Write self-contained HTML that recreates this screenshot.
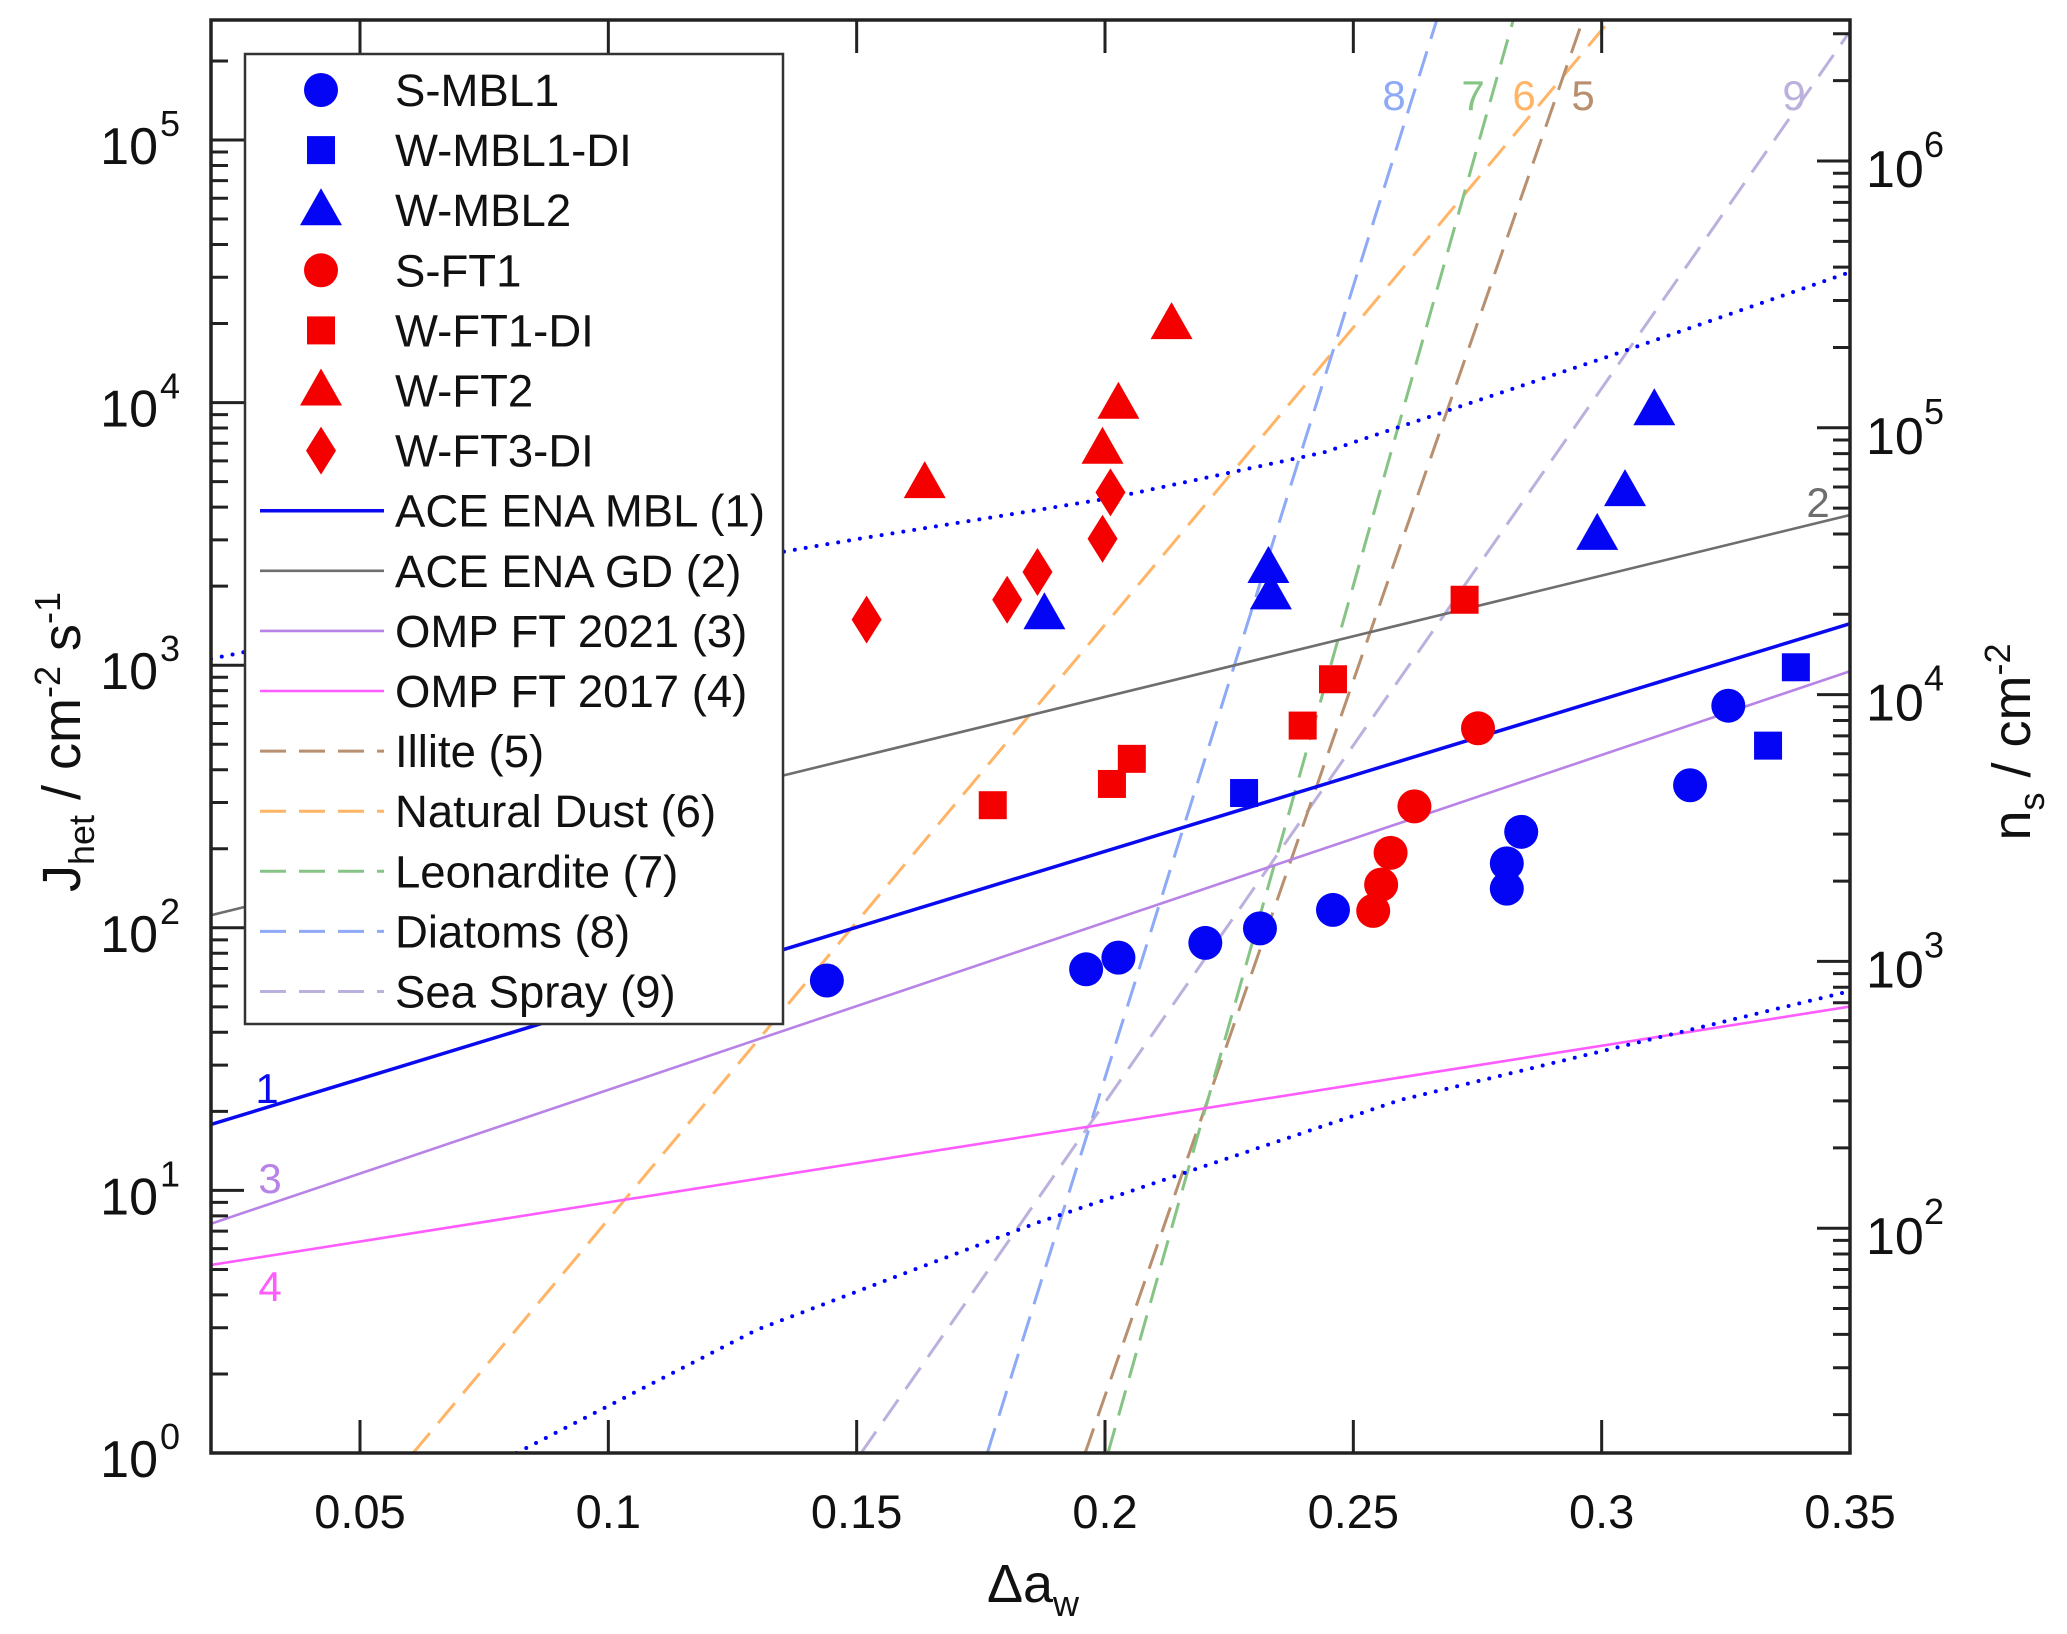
<!DOCTYPE html>
<html><head><meta charset="utf-8"><style>
html,body{margin:0;padding:0;background:#fff;width:2067px;height:1634px;overflow:hidden}
svg text{font-family:"Liberation Sans",Arial,sans-serif;fill:#111}
</style></head><body>
<svg id="chart" width="2067" height="1634" viewBox="0 0 2067 1634" xmlns="http://www.w3.org/2000/svg"></svg>
<script>
// ---------- data ----------
const xTicks=[0.05,0.1,0.15,0.2,0.25,0.3,0.35];
const xTickLabels=["0.05","0.1","0.15","0.2","0.25","0.3","0.35"];
const yTickExps=[0,1,2,3,4,5];
const rTickExps=[2,3,4,5,6];
// scatter series [x, J]
const sMbl1X=[0.1440,0.1962,0.2027,0.2202,0.2312,0.2459,0.2809,0.2809,0.2838,0.3178,0.3255];
const sMbl1Y=[63,69.5,77,87.6,99.5,117,141,176,232,349,701];
const wMbl1X=[0.2280,0.3335,0.3391];
const wMbl1Y=[326,494,982];
const wMbl2X=[0.1878,0.2334,0.2329,0.2991,0.3047,0.3106];
const wMbl2Y=[1563,1860,2346,3135,4600,9350];
const sFt1X=[0.2540,0.2556,0.2575,0.2623,0.2751];
const sFt1Y=[116,146,193,290,575];
const wFt1X=[0.1774,0.2014,0.2054,0.2398,0.2459,0.2724];
const wFt1Y=[293,353,440,589,884,1775];
const wFt2X=[0.1637,0.1995,0.2027,0.2134];
const wFt2Y=[4935,6670,9900,19900];
const wFt3X=[0.1520,0.1803,0.1864,0.1995,0.2011];
const wFt3Y=[1492,1775,2265,3030,4550];
// lines: endpoints [x0, log10J0, x1, log10J1]
const lineMbl=[0.02,1.251,0.35,3.158];
const lineGd=[0.02,2.048,0.35,3.572];
const lineOmp21=[0.02,0.873,0.35,2.977];
const lineOmp17=[0.02,0.716,0.35,1.700];
const lineIllite=[0.196,0,0.2962,5.457];
const lineDust=[0.0607,0,0.3017,5.457];
const lineLeon=[0.2006,0,0.2822,5.457];
const lineDiat=[0.1763,0,0.2668,5.457];
const lineSea=[0.1509,0,0.35,5.414];
// dotted confidence bounds
const upperX=[0.02,0.06,0.1007,0.15,0.2014,0.244,0.3022,0.35];
const upperL=[3.024,3.18,3.32,3.48,3.637,3.81,4.181,4.497];
const lowerX=[0.0815,0.13,0.1862,0.2594,0.35];
const lowerL=[0,0.47,0.876,1.344,1.759];
</script>
<script>
const svg=document.getElementById('chart');
const NS='http://www.w3.org/2000/svg';
const L=211,R=1850,T=20,B=1453;
const X=x=>L+(x-0.02)*(R-L)/0.33;
const YL=l=>B-l*262.6;
const Y=v=>YL(Math.log10(v));
const YR=l=>161+(6-l)*266.8;
function mk(tag,attrs,parent){const e=document.createElementNS(NS,tag);for(const k in attrs)e.setAttribute(k,attrs[k]);(parent||svg).appendChild(e);return e;}
const defs=mk('defs',{});
const cp=mk('clipPath',{id:'clip'},defs);mk('rect',{x:L,y:T,width:R-L,height:B-T},cp);
const plot=mk('g',{'clip-path':'url(#clip)'});



function seg(a,color,w,dash,name){
  const e=mk('line',{x1:X(a[0]),y1:YL(a[1]),x2:X(a[2]),y2:YL(a[3]),stroke:color,'stroke-width':w,fill:'none'},plot);
  if(dash)e.setAttribute('stroke-dasharray',dash);
  
  
}
function poly(xs,ls,color,name){
  const pts=xs.map((x,i)=>X(x)+','+YL(ls[i])).join(' ');
  const e=mk('polyline',{points:pts,stroke:color,'stroke-width':4,fill:'none','stroke-dasharray':'0 11','stroke-linecap':'round'},plot);
  
  
}
const C={illite:'#b89070',dust:'#ffb466',leon:'#86c486',diat:'#8eaaf6',sea:'#bcb0dc',mbl:'#0a0af0',gd:'#6e6e6e',o21:'#b883e6',o17:'#ff5cff'};
seg(lineSea,C.sea,3,'26 13','line-sea-spray');
seg(lineDust,C.dust,3,'26 13','line-natural-dust');
seg(lineDiat,C.diat,3,'26 13','line-diatoms');
seg(lineIllite,C.illite,3,'26 13','line-illite');
seg(lineLeon,C.leon,3,'26 13','line-leonardite');
seg(lineGd,C.gd,2.6,null,'line-ace-ena-gd');
seg(lineOmp21,C.o21,2.6,null,'line-omp-ft-2021');
seg(lineOmp17,C.o17,2.6,null,'line-omp-ft-2017');
seg(lineMbl,C.mbl,3.5,null,'line-ace-ena-mbl');
poly(upperX,upperL,'#0000ff','upper-confidence-bound');
poly(lowerX,lowerL,'#0000ff','lower-confidence-bound');

function marker(shape,cx,cy,color,parent){
  let e;
  if(shape==='c')e=mk('circle',{cx,cy,r:17,fill:color},parent);
  else if(shape==='s')e=mk('rect',{x:cx-14,y:cy-14,width:28,height:28,fill:color},parent);
  else if(shape==='t')e=mk('polygon',{points:`${cx},${cy-22} ${cx+21},${cy+15} ${cx-21},${cy+15}`,fill:color},parent);
  else e=mk('polygon',{points:`${cx},${cy-24} ${cx+15},${cy} ${cx},${cy+24} ${cx-15},${cy}`,fill:color},parent);
  return e;
}
function series(xs,ys,shape,color,name){
  const g=mk('g',{});
  
  
  xs.forEach((x,i)=>{const e=marker(shape,X(x),Y(ys[i]),color,g);
    
    });
}
const BL='#0505f5',RD='#f50000';
series(sMbl1X,sMbl1Y,'c',BL,'s-mbl1');
series(wMbl1X,wMbl1Y,'s',BL,'w-mbl1-di');
series(wMbl2X,wMbl2Y,'t',BL,'w-mbl2');
series(sFt1X,sFt1Y,'c',RD,'s-ft1');
series(wFt1X,wFt1Y,'s',RD,'w-ft1-di');
series(wFt2X,wFt2Y,'t',RD,'w-ft2');
series(wFt3X,wFt3Y,'d',RD,'w-ft3-di');

// line number labels
function lab(t,x,y,color,name){const e=mk('text',{x,y,'font-size':42,'text-anchor':'middle'});e.style.fill=color;e.textContent=t;
  
  }
lab('8',1394,110,C.diat,'label-8');lab('7',1473,110,C.leon,'label-7');lab('6',1524,110,C.dust,'label-6');
lab('5',1583,110,C.illite,'label-5');lab('9',1794,110,C.sea,'label-9');lab('2',1818,517,C.gd,'label-2');
lab('1',267,1103,C.mbl,'label-1');lab('3',270,1193,C.o21,'label-3');lab('4',270,1301,C.o17,'label-4');

// axes frame
const ax=mk('rect',{x:L,y:T,width:R-L,height:B-T,fill:'none',stroke:'#222','stroke-width':3.5});


// x ticks
xTicks.forEach((v,i)=>{const x=X(v);
  mk('line',{x1:x,y1:B,x2:x,y2:B-33,stroke:'#222','stroke-width':3});
  mk('line',{x1:x,y1:T,x2:x,y2:T+33,stroke:'#222','stroke-width':3});
  const t=mk('text',{x:x,y:1528,'font-size':47,'text-anchor':'middle'});t.textContent=xTickLabels[i];
  
  
});
// left y ticks
yTickExps.forEach(e=>{const y=YL(e);
  mk('line',{x1:L,y1:y,x2:L+33,y2:y,stroke:'#222','stroke-width':3});
  for(let m=2;m<10;m++){const yy=YL(e+Math.log10(m));if(yy>T)mk('line',{x1:L,y1:yy,x2:L+17,y2:yy,stroke:'#222','stroke-width':3});}
  const t=mk('text',{x:158,y:y+24,'font-size':52,'text-anchor':'end'});t.textContent='10';
  
  
  const s=mk('text',{x:160,y:y-4,'font-size':36});s.textContent=String(e);
});
// right y ticks
[1,2,3,4,5,6].forEach(e=>{const y=YR(e);
  if(y<B&&y>T)mk('line',{x1:R,y1:y,x2:R-33,y2:y,stroke:'#222','stroke-width':3});
  for(let m=2;m<10;m++){const yy=YR(e+Math.log10(m));if(yy>T&&yy<B)mk('line',{x1:R,y1:yy,x2:R-17,y2:yy,stroke:'#222','stroke-width':3});}
});
rTickExps.forEach(e=>{const y=YR(e);
  const t=mk('text',{x:1866,y:y+26,'font-size':52});t.textContent='10';
  
  
  const s=mk('text',{x:1924,y:y-4,'font-size':36});s.textContent=String(e);
});
// axis titles
let t=mk('text',{x:1033,y:1602,'font-size':54,'text-anchor':'middle'});
t.innerHTML='Δa<tspan font-size="36" dy="14">w</tspan>';


t=mk('text',{x:0,y:0,'font-size':54,'text-anchor':'middle',transform:'translate(80,742) rotate(-90)'});
t.innerHTML='J<tspan font-size="36" dy="14">het</tspan><tspan dy="-14"> / cm</tspan><tspan font-size="36" dy="-20">-2</tspan><tspan dy="20"> s</tspan><tspan font-size="36" dy="-20">-1</tspan>';


t=mk('text',{x:0,y:0,'font-size':54,'text-anchor':'middle',transform:'translate(2030,742) rotate(-90)'});
t.innerHTML='n<tspan font-size="36" dy="14">s</tspan><tspan dy="-14"> / cm</tspan><tspan font-size="36" dy="-20">-2</tspan>';



// legend
const lg=mk('g',{});


mk('rect',{x:245,y:54,width:538,height:970,fill:'#fff',stroke:'#333','stroke-width':2.5},lg);
const legNames=['S-MBL1','W-MBL1-DI','W-MBL2','S-FT1','W-FT1-DI','W-FT2','W-FT3-DI','ACE ENA MBL (1)','ACE ENA GD (2)','OMP FT 2021 (3)','OMP FT 2017 (4)','Illite (5)','Natural Dust (6)','Leonardite (7)','Diatoms (8)','Sea Spray (9)'];
const legKinds=['c','s','t','c','s','t','d','l','l','l','l','k','k','k','k','k'];
const legColors=[BL,BL,BL,RD,RD,RD,RD,C.mbl,C.gd,C.o21,C.o17,C.illite,C.dust,C.leon,C.diat,C.sea];
legNames.forEach((n,i)=>{const y=90+i*60.1;
  const g=mk('g',{},lg);
  
  
  const k=legKinds[i];
  if(k==='l')mk('line',{x1:260,y1:y,x2:384,y2:y,stroke:legColors[i],'stroke-width':i===7?3.5:2.6},g);
  else if(k==='k')mk('line',{x1:260,y1:y,x2:384,y2:y,stroke:legColors[i],'stroke-width':3,'stroke-dasharray':'26 13'},g);
  else marker(k,321,y,legColors[i],g);
  const tx=mk('text',{x:395,y:y+16,'font-size':45.5},g);tx.textContent=n;
});
</script>
</body></html>
